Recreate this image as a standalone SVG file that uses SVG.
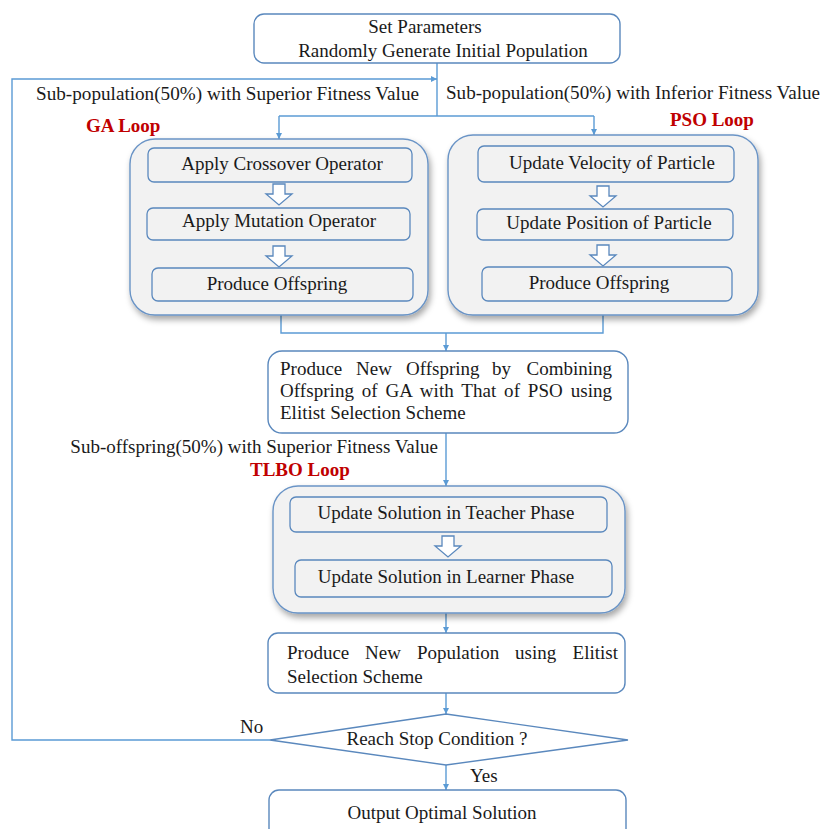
<svg xmlns="http://www.w3.org/2000/svg" xmlns:xlink="http://www.w3.org/1999/xlink" width="824" height="829" viewBox="0 0 824 829">
<style>
.t{font-family:"Liberation Serif","Times New Roman",serif;font-size:19px;fill:#1a1a1a}
.c{text-anchor:middle}
.red{font-family:"Liberation Serif","Times New Roman",serif;font-size:19px;font-weight:bold;fill:#c00000}
.box{fill:#ffffff;stroke:#5a88bd;stroke-width:1.4}
.loop{fill:#f2f2f2;stroke:#6a94c6;stroke-width:1.4}
.inner{fill:#f2f2f2;stroke:#5a88bd;stroke-width:1.3}
.hol{fill:#ffffff;stroke:#5a88bd;stroke-width:1.3}
.ln{fill:none;stroke:#5b9bd5;stroke-width:1.4}
</style>
<defs>
<marker id="ah" viewBox="0 0 10 10" refX="10" refY="5" markerWidth="6" markerHeight="6" markerUnits="userSpaceOnUse" orient="auto">
<path d="M0,0 L10,5 L0,10 Z" fill="#5b9bd5"/>
</marker>
<filter id="sh" x="-10%" y="-10%" width="125%" height="130%">
<feDropShadow dx="2" dy="4" stdDeviation="3" flood-color="#000" flood-opacity="0.35"/>
</filter>
<path id="ha" d="M-6,0 H6 V10 H13 L0,21 L-13,10 H-6 Z"/>
</defs>
<rect width="824" height="829" fill="#ffffff"/>

<g id="connectors">
<path class="ln" d="M437,63 V116"/>
<path class="ln" d="M279,116 H594"/>
<path class="ln" d="M279,116 V139" marker-end="url(#ah)"/>
<path class="ln" d="M594,116 V135" marker-end="url(#ah)"/>
<path class="ln" d="M281,315 V333 H603 V315"/>
<path class="ln" d="M446,333 V351" marker-end="url(#ah)"/>
<path class="ln" d="M446,433 V486" marker-end="url(#ah)"/>
<path class="ln" d="M446,613 V633" marker-end="url(#ah)"/>
<path class="ln" d="M446,693 V714" marker-end="url(#ah)"/>
<path class="ln" d="M446,765 V790" marker-end="url(#ah)"/>
<path class="ln" d="M270,740 H12 V79 H437" marker-end="url(#ah)"/>
</g>

<g id="labels">
<text class="t" x="36" y="100" textLength="383" lengthAdjust="spacingAndGlyphs">Sub-population(50%) with Superior Fitness Value</text>
<text class="t" x="446" y="99" textLength="374" lengthAdjust="spacingAndGlyphs">Sub-population(50%) with Inferior Fitness Value</text>
<text class="red" x="86" y="132">GA Loop</text>
<text class="red" x="670" y="126">PSO Loop</text>
<text class="t" x="438" y="453" text-anchor="end">Sub-offspring(50%) with Superior Fitness Value</text>
<text class="red" x="250" y="476">TLBO Loop</text>
<text class="t" x="240" y="733">No</text>
<text class="t" x="470" y="782">Yes</text>
</g>

<g id="start">
<rect class="box" x="254" y="14" width="366" height="49" rx="10"/>
<text class="t c" x="425" y="33">Set Parameters</text>
<text class="t c" x="443" y="57">Randomly Generate Initial Population</text>
</g>

<g id="ga-loop">
<rect class="loop" x="130" y="139" width="298" height="176" rx="25" filter="url(#sh)"/>
<rect class="inner" x="148" y="148" width="264" height="34" rx="6"/>
<text class="t c" x="282" y="170">Apply Crossover Operator</text>
<use href="#ha" xlink:href="#ha" class="hol" x="279" y="184"/>
<rect class="inner" x="147" y="208" width="263" height="32" rx="6"/>
<text class="t c" x="279" y="227">Apply Mutation Operator</text>
<use href="#ha" xlink:href="#ha" class="hol" x="279" y="246"/>
<rect class="inner" x="152" y="268" width="261" height="33" rx="6"/>
<text class="t c" x="277" y="290">Produce Offspring</text>
</g>

<g id="pso-loop">
<rect class="loop" x="448" y="135" width="310" height="180" rx="25" filter="url(#sh)"/>
<rect class="inner" x="478" y="146" width="256" height="36" rx="6"/>
<text class="t c" x="612" y="169">Update Velocity of Particle</text>
<use href="#ha" xlink:href="#ha" class="hol" x="603" y="186"/>
<rect class="inner" x="477" y="209" width="256" height="31" rx="6"/>
<text class="t c" x="609" y="229">Update Position of Particle</text>
<use href="#ha" xlink:href="#ha" class="hol" x="603" y="245"/>
<rect class="inner" x="482" y="267" width="250" height="34" rx="6"/>
<text class="t c" x="599" y="289">Produce Offspring</text>
</g>

<g id="combine">
<rect class="box" x="268" y="351" width="360" height="82" rx="14"/>
<text class="t" y="375"><tspan x="280">Produce</tspan><tspan x="356">New</tspan><tspan x="406">Offspring</tspan><tspan x="492">by</tspan><tspan x="612" text-anchor="end">Combining</tspan></text>
<text class="t" x="280" y="397" textLength="332" lengthAdjust="spacing" word-spacing="3">Offspring of GA with That of PSO using</text>
<text class="t" x="280" y="419">Elitist Selection Scheme</text>
</g>

<g id="tlbo-loop">
<rect class="loop" x="273" y="486" width="352" height="127" rx="25" filter="url(#sh)"/>
<rect class="inner" x="290" y="497" width="317" height="35" rx="6"/>
<text class="t c" x="446" y="519">Update Solution in Teacher Phase</text>
<use href="#ha" xlink:href="#ha" class="hol" x="448" y="536"/>
<rect class="inner" x="295" y="560" width="317" height="37" rx="6"/>
<text class="t c" x="446" y="583">Update Solution in Learner Phase</text>
</g>

<g id="new-population">
<rect class="box" x="268" y="633" width="357" height="60" rx="10"/>
<text class="t" y="659"><tspan x="287">Produce</tspan><tspan x="365">New</tspan><tspan x="417">Population</tspan><tspan x="515">using</tspan><tspan x="618" text-anchor="end">Elitist</tspan></text>
<text class="t" x="287" y="683">Selection Scheme</text>
</g>

<g id="stop-condition">
<path class="box" d="M446,714 L628,740 L446,765 L270,740 Z"/>
<text class="t c" x="437" y="745">Reach Stop Condition ?</text>
</g>

<g id="output">
<rect class="box" x="269" y="790" width="357" height="50" rx="10"/>
<text class="t c" x="442" y="819">Output Optimal Solution</text>
</g>
</svg>
